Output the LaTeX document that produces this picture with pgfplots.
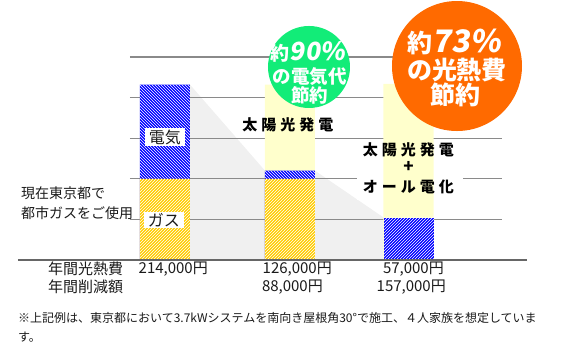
\documentclass[border=0pt]{standalone}
\usepackage{fontspec}
\setmainfont{Noto Sans CJK JP}
\usepackage{pgfplots}
\pgfplotsset{compat=1.18}
\usetikzlibrary{patterns}
\definecolor{elecblue}{HTML}{0000FF}
\definecolor{gasyellow}{HTML}{FFCC00}
\definecolor{solar}{HTML}{FFFFCC}
\definecolor{shade}{HTML}{F0F0F0}
\definecolor{gridc}{HTML}{8A8A8A}
\definecolor{basec}{HTML}{666666}
\definecolor{green90}{HTML}{12EC78}
\definecolor{orange73}{HTML}{FF6A00}
\definecolor{txt}{HTML}{1A1A1A}
\newcommand{\fs}[1]{\fontsize{#1}{#1}\selectfont}
\begin{document}
\begin{tikzpicture}
\begin{axis}[
  x=1pt, y=0.812pt,
  xmin=130, xmax=502, ymin=0, ymax=250,
  hide axis,
  clip=false,
]
% picture extent
\path (axis cs:0,-121.9) rectangle (axis cs:571,320.2);
% grey transition areas
\addplot[fill=shade, draw=none] coordinates {(190,216) (265,110)} \closedcycle;
\addplot[fill=shade, draw=none] coordinates {(315,110) (384,52)} \closedcycle;
% grid lines
\draw[gridc, line width=1.2pt] (axis cs:130,50) -- (axis cs:502,50);
\draw[gridc, line width=1.2pt] (axis cs:130,100) -- (axis cs:502,100);
\draw[gridc, line width=1.2pt] (axis cs:130,150) -- (axis cs:502,150);
\draw[gridc, line width=1.2pt] (axis cs:130,200) -- (axis cs:502,200);
\draw[gridc, line width=1.2pt] (axis cs:130,250) -- (axis cs:502,250);
% white box behind bar-3 label
\node[fill=white, minimum width=106pt, minimum height=50pt, inner sep=0pt] at (axis cs:410,105) {};
% solar columns
\addplot[ybar, bar width=50, bar shift=0pt, fill=solar, draw=none] coordinates {(290,216) (408.5,217)};
% electricity (bars 1 and 2, drawn full height, gas on top)
\addplot[ybar, bar width=50, bar shift=0pt, fill=elecblue, draw=none,
  postaction={pattern=north west lines, pattern color=white}] coordinates {(165,216) (290,110)};
% gas
\addplot[ybar, bar width=50, bar shift=0pt, fill=gasyellow, draw=none,
  postaction={pattern=north east lines, pattern color=white}] coordinates {(165,100) (290,100)};
% electricity bar 3
\addplot[ybar, bar width=50, bar shift=0pt, fill=elecblue, draw=none,
  postaction={pattern=north east lines, pattern color=white}] coordinates {(409,52)};
% baseline
\draw[basec, line width=1.6pt] (axis cs:18,0) -- (axis cs:527,0);
% bar labels
\node[fill=white, inner xsep=4pt, inner ysep=1.5pt, text=txt, font=\fs{16}] at (axis cs:165,151.5) {電気};
\node[fill=white, inner xsep=4pt, inner ysep=1.5pt, text=txt, font=\fs{16}] at (axis cs:164,49.3) {ガス};
% solar labels
\node[inner sep=0pt, text=black, font=\fs{15}\bfseries] at (axis cs:288,166.3) {太\hspace{4pt}陽\hspace{4pt}光\hspace{4pt}発\hspace{4pt}電};
\node[inner sep=0pt, text=black, font=\fs{15}\bfseries] at (axis cs:408.5,135.5) {太\hspace{4pt}陽\hspace{4pt}光\hspace{4pt}発\hspace{4pt}電};
\node[inner sep=0pt, text=black, font=\fs{17}\bfseries] at (axis cs:408.5,114.5) {+};
\node[inner sep=0pt, text=black, font=\fs{15}\bfseries] at (axis cs:408.5,89.9) {オ\hspace{4pt}ー\hspace{4pt}ル\hspace{4pt}電\hspace{4pt}化};
% circles
\node[circle, fill=green90, minimum size=82pt, inner sep=0pt] at (axis cs:309,237.7) {};
\node[inner sep=0pt, text=white, font=\bfseries] at (axis cs:308,256.2) {{\fs{19}約}{\fs{25}\addfontfeature{FakeSlant=0.15}90\%}};
\node[inner sep=0pt, text=white, font=\fs{18.5}\bfseries] at (axis cs:310,225.4) {の電気代};
\node[inner sep=0pt, text=white, font=\fs{18.5}\bfseries] at (axis cs:310,203.2) {節約};
\node[circle, fill=orange73, minimum size=130pt, inner sep=0pt] at (axis cs:457,238.9) {};
\node[inner sep=0pt, text=white, font=\bfseries] at (axis cs:454,268.5) {{\fs{25}約}{\fs{31}\addfontfeature{FakeSlant=0.15}73\%}};
\node[inner sep=0pt, text=white, font=\fs{25}\bfseries] at (axis cs:457,234.0) {の光熱費};
\node[inner sep=0pt, text=white, font=\fs{25}\bfseries] at (axis cs:456,203.2) {節約};
% left text
\node[anchor=west, inner sep=0pt, text=txt, font=\fs{14}] at (axis cs:21,82.5) {現在東京都で};
\node[anchor=west, inner sep=0pt, text=txt, font=\fs{14}] at (axis cs:21,57.9) {都市ガスをご使用};
% bottom rows
\node[anchor=west, inner sep=0pt, text=txt, font=\fs{15}] at (axis cs:48,-11.1) {年間光熱費};
\node[anchor=west, inner sep=0pt, text=txt, font=\fs{15}] at (axis cs:48,-33.3) {年間削減額};
\node[anchor=east, inner sep=0pt, text=txt, font=\fs{15}] at (axis cs:208,-11.1) {214,000円};
\node[anchor=east, inner sep=0pt, text=txt, font=\fs{15}] at (axis cs:332,-11.1) {126,000円};
\node[anchor=east, inner sep=0pt, text=txt, font=\fs{15}] at (axis cs:444,-11.1) {57,000円};
\node[anchor=east, inner sep=0pt, text=txt, font=\fs{15}] at (axis cs:323,-33.3) {88,000円};
\node[anchor=east, inner sep=0pt, text=txt, font=\fs{15}] at (axis cs:446,-33.3) {157,000円};
% footnote
\node[anchor=west, inner sep=0pt, text=txt, font=\fs{12}] at (axis cs:18,-71.4) {※上記例は、東京都において3.7kWシステムを南向き屋根角30°で施工、４人家族を想定していま};
\node[anchor=west, inner sep=0pt, text=txt, font=\fs{12}] at (axis cs:18,-94.8) {す。};
\end{axis}
\end{tikzpicture}
\end{document}
